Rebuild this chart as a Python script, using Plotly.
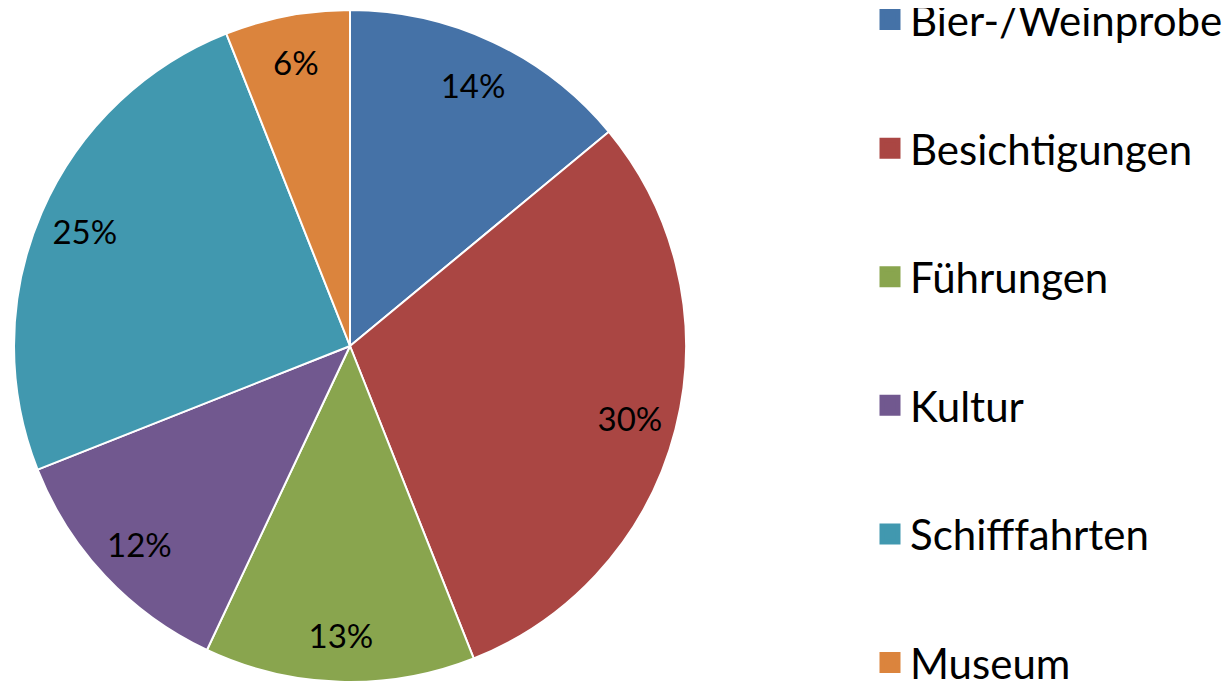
import plotly.graph_objects as go

categories = ["Bier-/Weinprobe", "Besichtigungen", "Führungen", "Kultur", "Schifffahrten", "Museum"]
values = [14, 30, 13, 12, 25, 6]
colors = ["#4572A7", "#AA4643", "#89A54E", "#71588F", "#4198AF", "#DB843D"]

FONT = "Lato"
W, H = 1231, 681
pie_domain = dict(x=[6 / W, 678 / W], y=[1 - 674 / H, 1 - 2 / H])

fig = go.Figure()
# main pie
fig.add_trace(go.Pie(
    labels=categories, values=values, sort=False, direction="clockwise", rotation=0,
    marker=dict(colors=colors, line=dict(color="white", width=2)),
    textinfo="none", showlegend=False, domain=pie_domain, hoverinfo="label+percent",
))
# ring overlay carrying the percentage labels near the outer edge
fig.add_trace(go.Pie(
    labels=categories, values=values, sort=False, direction="clockwise", rotation=0,
    hole=0.72, marker=dict(colors=["rgba(0,0,0,0)"] * len(values), line=dict(width=0)),
    texttemplate="%{percent:.0%}", textposition="inside", insidetextorientation="horizontal",
    textfont=dict(family=FONT, size=33, color="black"),
    showlegend=False, domain=pie_domain, hoverinfo="skip",
))
# legend entries
for name, c in zip(categories, colors):
    fig.add_trace(go.Scatter(
        x=[None], y=[None], mode="markers", name=name, legendgroup=name,
        marker=dict(symbol="square", size=24, color=c, line=dict(color=c, width=6)),
    ))

fig.update_layout(
    width=W, height=H,
    margin=dict(l=0, r=0, t=0, b=0, autoexpand=False),
    paper_bgcolor="white", plot_bgcolor="white",
    xaxis=dict(visible=False), yaxis=dict(visible=False),
    showlegend=True,
    legend=dict(
        x=862 / W, xanchor="left", y=1.0327, yanchor="top",
        font=dict(family=FONT, size=42, color="black"),
        tracegroupgap=71, itemsizing="trace", maxheight=900,
        bgcolor="rgba(0,0,0,0)",
    ),
)
fig.write_html("out.html")
